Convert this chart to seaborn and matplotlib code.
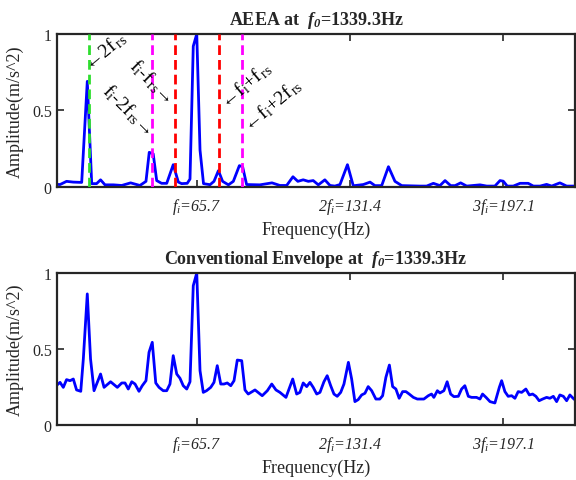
import numpy as np
import matplotlib
matplotlib.use("Agg")
import matplotlib.pyplot as plt
import seaborn as sns

# ---- data ----
f_i = 65.7
f_rs = 9.6

aeea_freq = [5.5, 6.9, 9.7, 12.6, 16.2, 18.6, 20.5, 22.6, 24.3, 26.2, 29.8, 33.4,
             37.2, 41.2, 43.8, 45.2, 46.9, 48.4, 50.5, 52.7, 55.5, 57.7, 59.1, 61.5,
             62.7, 64.1, 65.6, 67.0, 68.5, 71.3, 73.0, 74.9, 76.7, 79.2, 81.3, 83.9,
             85.3, 87.0, 92.7, 97.9, 101.3, 104.2, 106.9, 109.0, 111.3, 113.5, 115.6,
             117.8, 120.6, 122.8, 124.9, 127.1, 130.3, 132.8, 137.1, 140.0, 142.1,
             145.0, 147.9, 150.7, 153.6, 161.4, 164.3, 167.2, 170.0, 172.2, 174.6,
             176.5, 178.9, 181.5, 187.2, 190.1, 193.6, 195.8, 197.2, 198.9, 201.5,
             204.4, 207.9, 210.1, 213.0, 215.8, 218.0, 221.5, 224.4, 228.4]
aeea_amp = [0.015, 0.014, 0.035, 0.030, 0.028, 0.69, 0.02, 0.02, 0.045, 0.012, 0.012, 0.008,
            0.025, 0.008, 0.035, 0.225, 0.215, 0.04, 0.022, 0.022, 0.144, 0.03, 0.02, 0.022,
            0.05, 0.92, 1.0, 0.24, 0.02, 0.013, 0.035, 0.105, 0.035, 0.012, 0.035, 0.138,
            0.13, 0.014, 0.012, 0.025, 0.008, 0.008, 0.065, 0.035, 0.045, 0.035, 0.04,
            0.012, 0.045, 0.008, 0.004, 0.014, 0.144, 0.006, 0.014, 0.03, 0.007,
            0.007, 0.131, 0.035, 0.007, 0.004, 0.004, 0.022, 0.007, 0.04, 0.007,
            0.007, 0.025, 0.004, 0.012, 0.004, 0.004, 0.04, 0.036, 0.004, 0.004,
            0.022, 0.022, 0.004, 0.004, 0.015, 0.004, 0.025, 0.004, 0.004]

env_freq = [5.5, 6.9, 8.3, 9.7, 11.2, 12.6, 14.0, 15.8, 16.9, 18.6, 20.0, 21.5, 22.9,
            24.3, 25.8, 28.6, 31.5, 33.4, 34.8, 36.2, 37.7, 39.1, 40.8, 42.2, 43.8,
            45.1, 46.5, 48.0, 49.4, 51.2, 52.7, 54.1, 55.5, 57.0, 58.4, 59.8, 61.3,
            62.7, 64.1, 65.6, 67.0, 68.4, 69.8, 71.6, 73.0, 74.4, 75.9, 77.3, 78.7,
            80.2, 81.6, 83.0, 84.9, 86.3, 87.7, 90.6, 93.7, 95.9, 97.8, 99.6, 101.3,
            103.9, 106.8, 108.5, 109.9, 111.3, 112.8, 114.2, 115.6, 117.1, 118.5,
            120.2, 121.6, 123.1, 124.5, 125.9, 127.4, 128.8, 130.7, 132.1, 133.5,
            134.9, 136.4, 137.8, 139.2, 140.7, 142.5, 144.2, 145.4, 146.8, 148.3,
            149.7, 151.1, 152.5, 154.0, 155.4, 156.8, 158.6, 160.3, 163.1, 165.0,
            166.4, 167.4, 168.9, 170.0, 171.7, 173.1, 174.6, 176.0, 177.9, 179.3,
            180.7, 182.2, 183.6, 185.7, 187.2, 188.3, 189.8, 191.5, 193.6, 195.5,
            196.5, 197.9, 199.3, 200.8, 202.2, 203.6, 205.1, 206.9, 208.4, 209.8,
            211.2, 212.6, 214.1, 215.8, 217.2, 218.7, 220.1, 221.5, 223.0, 224.4,
            225.8, 227.2, 228.4]
env_amp = [0.26, 0.279, 0.246, 0.297, 0.290, 0.301, 0.229, 0.220, 0.433, 0.862, 0.433, 0.224, 0.279,
           0.334, 0.246, 0.283, 0.246, 0.275, 0.275, 0.235, 0.283, 0.268, 0.220, 0.257, 0.290,
           0.477, 0.543, 0.275, 0.246, 0.224, 0.224, 0.268, 0.455, 0.334, 0.306, 0.257, 0.235,
           0.283, 0.916, 1.0, 0.356, 0.213, 0.224, 0.246, 0.279, 0.389, 0.268, 0.268, 0.275,
           0.257, 0.290, 0.426, 0.422, 0.229, 0.202, 0.229, 0.191, 0.224, 0.268, 0.229, 0.213,
           0.180, 0.301, 0.202, 0.213, 0.275, 0.251, 0.279, 0.246, 0.202, 0.213,
           0.283, 0.323, 0.257, 0.202, 0.187, 0.213, 0.268, 0.411, 0.301, 0.152,
           0.165, 0.196, 0.207, 0.251, 0.224, 0.169, 0.169, 0.191, 0.312, 0.393,
           0.251, 0.235, 0.174, 0.218, 0.218, 0.202, 0.180, 0.169, 0.169, 0.191,
           0.202, 0.180, 0.224, 0.209, 0.224, 0.283, 0.202, 0.185, 0.187, 0.235,
           0.257, 0.187, 0.180, 0.180, 0.169, 0.202, 0.180, 0.152, 0.143, 0.246,
           0.290, 0.218, 0.187, 0.191, 0.174, 0.218, 0.213, 0.235, 0.196, 0.202,
           0.187, 0.158, 0.169, 0.180, 0.174, 0.187, 0.152, 0.196, 0.187, 0.158,
           0.196, 0.174, 0.158]

xtick_pos = [f_i, 2 * f_i, 3 * f_i]
xtick_labels = [r'$f_i$=65.7', r'2$f_i$=131.4', r'3$f_i$=197.1']

# ---- style ----
sns.set_style("ticks")
plt.rcParams['font.family'] = ['Liberation Serif', 'DejaVu Serif']
plt.rcParams['mathtext.fontset'] = 'custom'
plt.rcParams['mathtext.rm'] = 'Liberation Serif'
plt.rcParams['mathtext.it'] = 'Liberation Serif:italic'
plt.rcParams['mathtext.bf'] = 'Liberation Serif:bold'
plt.rcParams['mathtext.bfit'] = 'Liberation Serif:bold:italic'

fig = plt.figure(figsize=(5.76, 4.81), dpi=100)
ax1 = fig.add_axes([0.0984, 0.6098, 0.9007, 0.3174])
ax2 = fig.add_axes([0.0984, 0.1150, 0.9007, 0.3154])


def style_axes(ax, title):
    ax.set_xlim(5.46, 228.2)
    ax.set_ylim(0, 1)
    ax.set_xticks(xtick_pos)
    ax.set_xticklabels(xtick_labels, fontstyle='italic')
    ax.set_yticks([0, 0.5, 1])
    ax.set_yticklabels(['0', '0.5', '1'])
    ax.tick_params(direction='in', top=True, right=True, length=5, width=1.2,
                   labelsize=11.5, colors='#262626')
    ax.tick_params(axis='x', pad=7)
    for s in ax.spines.values():
        s.set_visible(True)
        s.set_linewidth(1.6)
        s.set_color('#262626')
    ax.set_xlabel('Frequency(Hz)', fontsize=13, color='#262626', labelpad=3)
    ax.set_ylabel('Amplitude(m/s^2)', fontsize=13, color='#262626', labelpad=6)
    ax.set_title(title, fontsize=13, fontweight='bold', pad=7)


# ---- top: AEEA ----
sns.lineplot(x=aeea_freq, y=aeea_amp, ax=ax1, color='blue', lw=2, zorder=2)
dash = (3.5, 1.8)
ax1.axvline(2 * f_rs, color='#2ede2e', lw=2, dashes=dash, zorder=3)
ax1.axvline(f_i - 2 * f_rs, color='magenta', lw=2, dashes=dash, zorder=3)
ax1.axvline(f_i + 2 * f_rs, color='magenta', lw=2, dashes=dash, zorder=3)
ax1.axvline(f_i - f_rs, color='red', lw=2, dashes=dash, zorder=3)
ax1.axvline(f_i + f_rs, color='red', lw=2, dashes=dash, zorder=3)
style_axes(ax1, r'AEEA at  $\mathbfit{f_0}$' + '=1339.3Hz')

ann = dict(fontsize=14, rotation_mode='anchor', va='center', color='black')
ax1.text(18.0, 0.79, '\u21902f$_{\\,\\rm rs}$', rotation=40, ha='left', **ann)
ax1.text(54.3, 0.574, 'f$_{\\rm i}$-f$_{\\,\\rm rs}$\u2192', rotation=-45, ha='right', **ann)
ax1.text(45.7, 0.36, 'f$_{\\rm i}$-2f$_{\\,\\rm rs}$\u2192', rotation=-45, ha='right', **ann)
ax1.text(76.4, 0.54, '\u2190f$_{\\rm i}$+f$_{\\,\\rm rs}$', rotation=40, ha='left', **ann)
ax1.text(86.3, 0.39, '\u2190f$_{\\rm i}$+2f$_{\\,\\rm rs}$', rotation=40, ha='left', **ann)

# ---- bottom: conventional envelope ----
sns.lineplot(x=env_freq, y=env_amp, ax=ax2, color='blue', lw=2)
style_axes(ax2, r'Conventional Envelope at  $\mathbfit{f_0}$' + '=1339.3Hz')

fig.savefig('out.png', dpi=100)
